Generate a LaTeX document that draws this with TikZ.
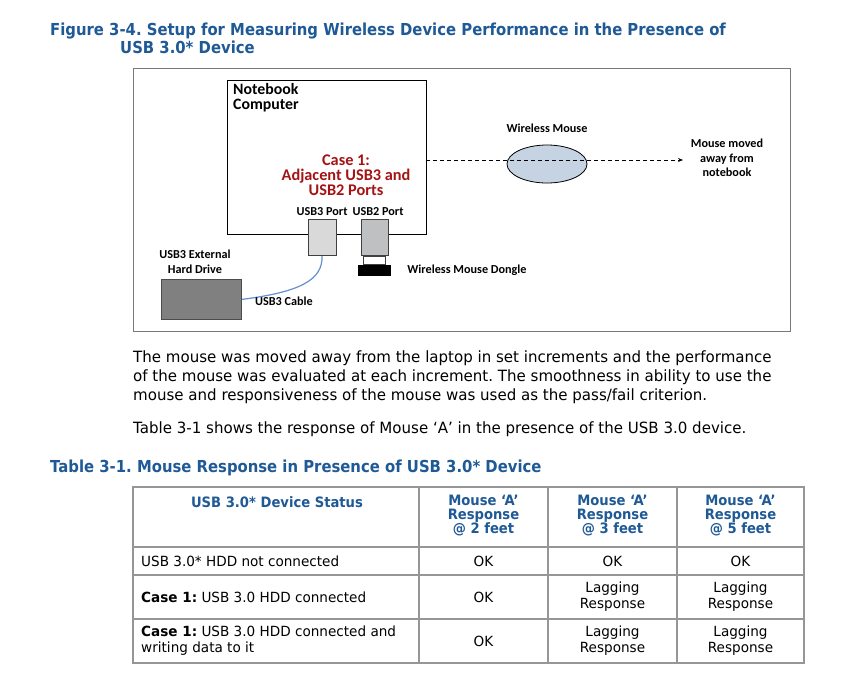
\documentclass[tikz,border=0pt]{standalone}
\usepackage{fontspec}
\setmainfont{DejaVu Sans}[FakeStretch=0.97]
\newfontfamily\headfont{DejaVu Sans}[FakeStretch=0.9]
\newfontfamily\theadfont{DejaVu Sans}[FakeStretch=0.92]
\newfontfamily\figfont{Carlito}
\usetikzlibrary{arrows.meta,shapes.geometric}
\definecolor{hblue}{RGB}{31,90,150}
\definecolor{cred}{RGB}{165,20,20}
\definecolor{mousefill}{RGB}{197,211,227}
\definecolor{cablec}{RGB}{100,145,205}
\definecolor{framec}{RGB}{120,120,120}
\definecolor{tablec}{RGB}{150,150,150}
\definecolor{hddfill}{RGB}{128,128,128}
\definecolor{usbthree}{RGB}{217,217,217}
\definecolor{usbtwo}{RGB}{190,192,194}
\frenchspacing
\tikzset{
  heading/.style={anchor=base west, inner sep=0, text=hblue, font=\headfont\bfseries\fontsize{16.5}{20}\selectfont},
  bodyline/.style={anchor=base west, inner sep=0, font=\fontsize{15.5}{18}\selectfont},
  figlabel/.style={inner sep=0, align=center, font=\figfont\bfseries\fontsize{12.2}{14.5}\selectfont},
  thead/.style={inner sep=0, align=center, text=hblue, font=\theadfont\bfseries\fontsize{14.3}{14}\selectfont},
  tcell/.style={inner sep=0, align=center, font=\fontsize{14}{16}\selectfont},
  tleft/.style={inner sep=0, align=left, anchor=west, font=\fontsize{14}{16}\selectfont},
  port/.style={draw=black!75, line width=0.8, minimum height=36, inner sep=0},
  tline/.style={draw=tablec, line width=1.6}
}
\begin{document}
\frenchspacing
\begin{tikzpicture}[x=1pt,y=-1pt]
\useasboundingbox (0,0) rectangle (842,683);
\fill[white] (0,0) rectangle (842,683);

% headings
\node[heading] (t1) at (50,35) {Figure 3-4. Setup for Measuring Wireless Device Performance in the Presence of};
\node[heading] (t2) at (120,53) {USB 3.0* Device};

% figure frame
\draw[framec, line width=1] (133,68) rectangle (790,331);

% notebook
\node[draw=black, line width=1.3, minimum width=199, minimum height=154, inner sep=0, anchor=north west] (nb) at (227,80) {};
\node[figlabel, anchor=north west, align=left, font=\figfont\bfseries\fontsize{15.8}{15}\selectfont] (nbt) at (233,83) {Notebook\\Computer};
\node[figlabel, text=cred, font=\figfont\bfseries\fontsize{16.3}{15}\selectfont] (case) at (346,175) {Case 1:\\Adjacent USB3 and\\USB2 Ports};

% ports
\node[figlabel] (l3) at (322,212) {USB3 Port};
\node[figlabel] (l2) at (378,212) {USB2 Port};
\node[port, fill=usbthree, minimum width=28] (p3) at (322,237.5) {};
\node[port, fill=usbtwo, minimum width=27] (p2) at (374.5,237.5) {};
\node[draw=black!75, fill=white, line width=0.8, minimum width=22, minimum height=8, inner sep=0, anchor=north] (conn) at (p2.south) {};
\node[fill=black, minimum width=33, minimum height=11, inner sep=0, anchor=north] (dongle) at (conn.south) {};
\node[figlabel] (dl) at (467,270) {Wireless Mouse Dongle};

% mouse
\node[draw=black, line width=0.8, fill=mousefill, ellipse, minimum width=80, minimum height=38, inner sep=0] (mouse) at (547,164) {};
\node[figlabel] (ml) at (547,128) {Wireless Mouse};
\coordinate (nbr) at (426,160);
\coordinate (aend) at (683,160);
\draw[dashed, dash pattern=on 4pt off 3pt, line width=0.8, -{Stealth[length=5pt,width=4pt]}] (nbr) -- (aend);
\node[figlabel] (mm) at (727,158) {Mouse moved\\away from\\notebook};

% hard drive
\node[figlabel] (hdl) at (195,262) {USB3 External\\Hard Drive};
\node[draw=black!70, fill=hddfill, line width=0.8, minimum width=80, minimum height=40, inner sep=0, anchor=north west] (hdd) at (161,279) {};
\draw[cablec, line width=1.2] (p3.south) .. controls (323,280) and (300,292) .. (hdd.east);
\node[figlabel] (cl) at (284,301) {USB3 Cable};

% paragraph
\node[bodyline] (b1) at (133,362) {The mouse was moved away from the laptop in set increments and the performance};
\node[bodyline] (b2) at (133,381) {of the mouse was evaluated at each increment. The smoothness in ability to use the};
\node[bodyline] (b3) at (133,400) {mouse and responsiveness of the mouse was used as the pass/fail criterion.};
\node[bodyline] (b4) at (133,433) {Table 3-1 shows the response of Mouse ‘A’ in the presence of the USB 3.0 device.};

\node[heading] (t3) at (50,472) {Table 3-1. Mouse Response in Presence of USB 3.0* Device};

% table grid
\draw[tline] (133,487) rectangle (804,663);
\draw[tline] (133,547) -- (804,547);
\draw[tline] (133,575) -- (804,575);
\draw[tline] (133,619) -- (804,619);
\draw[tline] (419,487) -- (419,663);
\draw[tline] (548,487) -- (548,663);
\draw[tline] (677,487) -- (677,663);

% header
\node[thead] (h1) at (277,502) {USB 3.0* Device Status};
\node[thead] (h2) at (483.5,516) {Mouse ‘A’\\Response\\@ 2 feet};
\node[thead] (h3) at (612.5,516) {Mouse ‘A’\\Response\\@ 3 feet};
\node[thead] (h4) at (740.5,516) {Mouse ‘A’\\Response\\@ 5 feet};

% rows
\node[tleft] (r1) at (141,561) {USB 3.0* HDD not connected};
\node[tcell] (r1a) at (483.5,561) {OK};
\node[tcell] (r1b) at (612.5,561) {OK};
\node[tcell] (r1c) at (740.5,561) {OK};

\node[tleft] (r2) at (141,597) {{\bfseries Case 1:} USB 3.0 HDD connected};
\node[tcell] (r2a) at (483.5,597) {OK};
\node[tcell] (r2b) at (612.5,597) {Lagging\\Response};
\node[tcell] (r2c) at (740.5,597) {Lagging\\Response};

\node[tleft] (r3) at (141,641) {{\bfseries Case 1:} USB 3.0 HDD connected and\\writing data to it};
\node[tcell] (r3a) at (483.5,641) {OK};
\node[tcell] (r3b) at (612.5,641) {Lagging\\Response};
\node[tcell] (r3c) at (740.5,641) {Lagging\\Response};
\end{tikzpicture}
\end{document}
